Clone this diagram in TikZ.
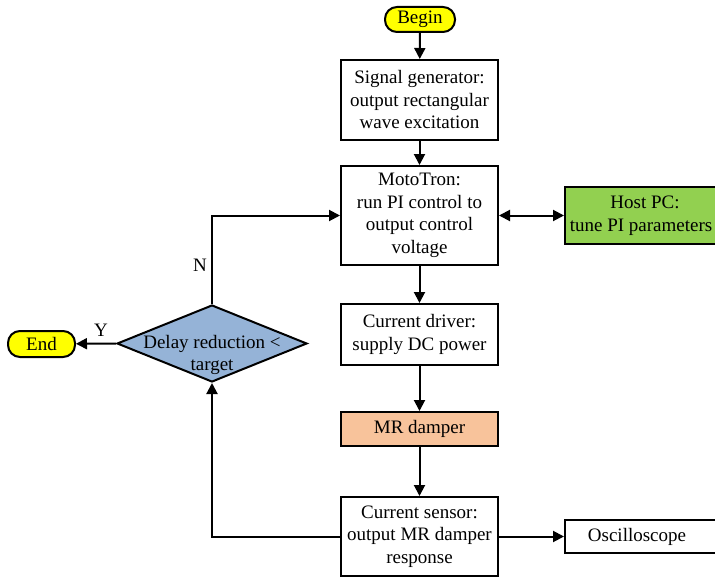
\documentclass[tikz,border=0pt]{standalone}
\usepackage{fontspec}
\setmainfont{Liberation Serif}
\usetikzlibrary{shapes.geometric,arrows.meta}
\definecolor{begy}{HTML}{FFFF00}
\definecolor{hostg}{HTML}{92D050}
\definecolor{mrorange}{HTML}{F8C39B}
\definecolor{diablue}{HTML}{95B3D7}
\begin{document}
\begin{tikzpicture}[x=1pt,y=-1pt,
  every node/.style={font=\fontsize{19}{22.5}\selectfont},
  box/.style={draw,line width=2pt,align=center,inner sep=0pt},
  term/.style={box,rounded corners=12pt,fill=begy},
  arr/.style={line width=2pt,-{Triangle[length=11pt,width=11pt]}},
  darr/.style={line width=2pt,{Triangle[length=11pt,width=11pt]}-{Triangle[length=11pt,width=11pt]}}]
\useasboundingbox (0,0) rectangle (715,578);
\node[term,minimum width=70pt,minimum height=25pt] (begin) at (420,19.5) {Begin};
\node[box,minimum width=157pt,minimum height=80pt] (sig) at (419.5,100) {Signal generator:\\output rectangular\\wave excitation};
\node[box,minimum width=157pt,minimum height=99pt] (moto) at (419.5,215.5) {MotoTron:\\run PI control to\\output control\\voltage};
\node[box,fill=hostg,minimum width=160pt,minimum height=57pt,anchor=west] (host) at (564,215.5) {Host PC:\\tune PI parameters\hspace*{8pt}};
\node[box,minimum width=157pt,minimum height=61pt] (drv) at (419.5,334.5) {Current driver:\\supply DC power};
\node[box,fill=mrorange,minimum width=157pt,minimum height=34pt] (mr) at (419.5,429) {MR damper};
\node[box,minimum width=157pt,minimum height=79pt] (sens) at (419.5,536.5) {Current sensor:\\output MR damper\\response};
\node[box,minimum width=160pt,minimum height=33pt,anchor=west] (osc) at (564,536.5) {Oscilloscope\hspace*{16pt}};
\node[diamond,draw,line width=2pt,fill=diablue,minimum width=190pt,minimum height=77pt,aspect=2.47,inner sep=0pt] (dia) at (212,343.5) {};
\node[align=center] (diat) at (212,355) {Delay reduction <\\target};
\node[term,minimum width=67pt,minimum height=26pt] (end) at (41.5,344) {End};
\coordinate (c1) at (212,536.5);
\coordinate (c2) at (212,215.5);
\draw[arr] (begin) -- (sig);
\draw[arr] (sig) -- (moto);
\draw[arr] (moto) -- (drv);
\draw[arr] (drv) -- (mr);
\draw[arr] (mr) -- (sens);
\draw[arr] (sens) -- (osc);
\draw[darr] (moto) -- (host);
\draw[arr] (sens.west) -- (c1) -- (dia.south);
\draw[arr] (dia.north) -- (c2) -- (moto.west);
\draw[arr] (dia.west) -- (end);
\node (N) at (200,265) {N};
\node (Y) at (101,330) {Y};
\end{tikzpicture}
\end{document}
